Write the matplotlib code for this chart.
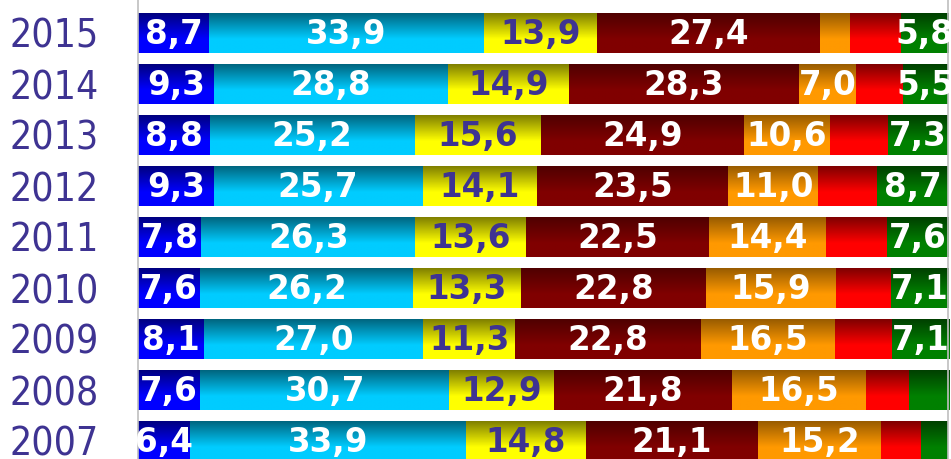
import numpy as np
import matplotlib
matplotlib.use("Agg")
import matplotlib.pyplot as plt
from matplotlib.colors import to_rgb

years = ["2015", "2014", "2013", "2012", "2011", "2010", "2009", "2008", "2007"]

blue = [8.7, 9.3, 8.8, 9.3, 7.8, 7.6, 8.1, 7.6, 6.4]
cyan = [33.9, 28.8, 25.2, 25.7, 26.3, 26.2, 27.0, 30.7, 33.9]
yellow = [13.9, 14.9, 15.6, 14.1, 13.6, 13.3, 11.3, 12.9, 14.8]
darkred = [27.4, 28.3, 24.9, 23.5, 22.5, 22.8, 22.8, 21.8, 21.1]
orange = [3.6, 7.0, 10.6, 11.0, 14.4, 15.9, 16.5, 16.5, 15.2]
red = [6.3, 5.8, 7.1, 7.3, 7.5, 6.8, 7.0, 5.3, 4.9]
green = [5.8, 5.5, 7.3, 8.7, 7.6, 7.1, 7.1, 5.0, 3.2]

series = [blue, cyan, yellow, darkred, orange, red, green]
colors = ["#0000FF", "#00CCFF", "#FFFF00", "#800000", "#FF9900", "#FF0000", "#008000"]
top_dark = [0.5, 0.5, 0.5, 0.62, 0.6, 0.5, 0.5]
text_colors = ["white", "white", "#3E3392", "white", "white", "white", "white"]
labelled = [True, True, True, True, True, False, True]
min_label = 5.2

purple = "#3E3392"

fig = plt.figure(figsize=(9.51, 4.59), dpi=100)
ax = fig.add_axes([138 / 951, 0, 810 / 951, 1])

y = np.arange(len(years))
bar_h = 40 / 51


def gradient(base, k, n=64):
    c = np.array(to_rgb(base))
    t = np.clip(np.linspace(0, 1, n) / 0.65, 0, 1)[:, None]
    col = c * k + (c - c * k) * t
    return col[:, None, :]


left = np.zeros(len(years))
for vals, col, k, tc, lab in zip(series, colors, top_dark, text_colors, labelled):
    vals = np.array(vals)
    bars = ax.barh(y, vals, left=left, height=bar_h, color=col, linewidth=0)
    img = gradient(col, k)
    for b, yy, l, v in zip(bars, y, left, vals):
        im = ax.imshow(img, extent=(l, l + v, yy + bar_h / 2, yy - bar_h / 2),
                       aspect="auto", interpolation="bilinear", zorder=2)
        im.set_clip_path(b)
        if lab and v >= min_label:
            ax.text(l + v / 2, yy + 0.03, f"{v:.1f}".replace(".", ","),
                    ha="center", va="center", color=tc, fontsize=23.5,
                    fontweight="bold", family="DejaVu Sans", zorder=3)
    left = left + vals

ax.set_xlim(0, 99.6)
ax.set_ylim((459 - 33) / 51, -33 / 51)

ax.set_yticks(y)
ax.set_yticklabels(years, color=purple, fontsize=28, family="DejaVu Sans",
                   fontstretch="condensed")
ax.tick_params(axis="y", length=0, pad=28)
ax.set_xticks([])
for s in ["top", "bottom"]:
    ax.spines[s].set_visible(False)
for s in ["left", "right"]:
    ax.spines[s].set_color("#BFBFBF")
    ax.spines[s].set_linewidth(1.2)

plt.savefig("out.png", dpi=100)
